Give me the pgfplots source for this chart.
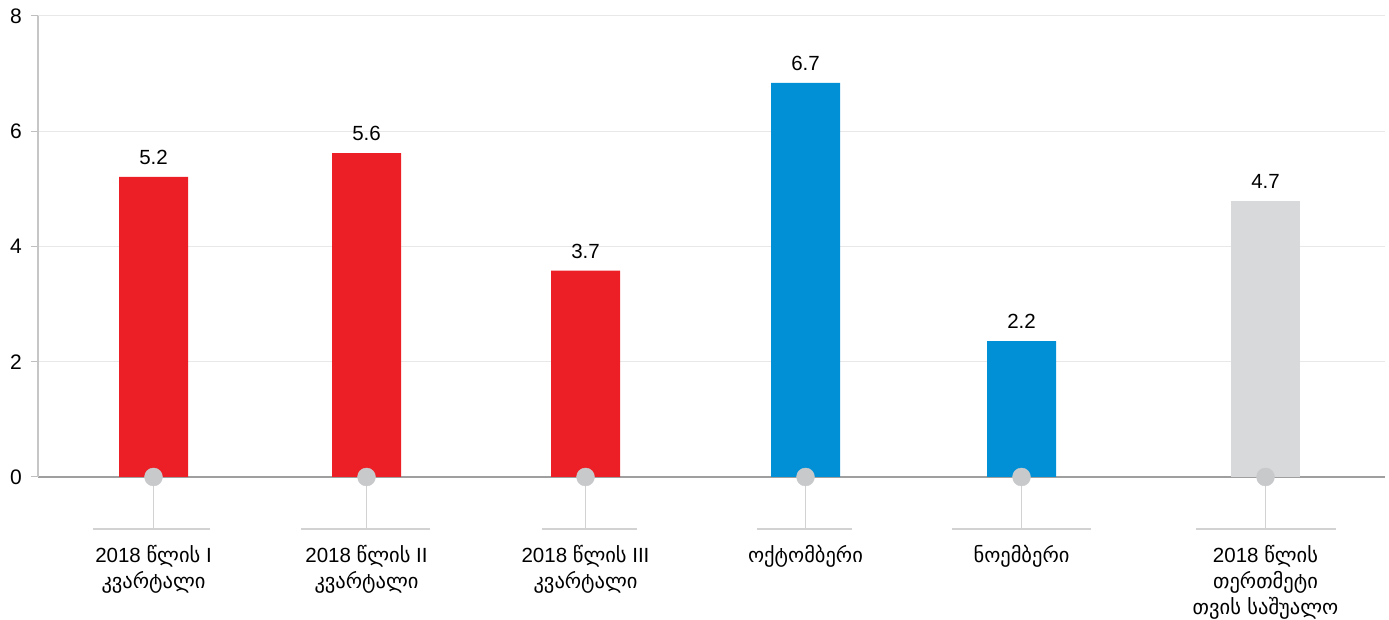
\documentclass[border=0pt]{standalone}
\usepackage{pgfplots}
\pgfplotsset{compat=1.18}
\usepackage{fontspec}
\setmainfont{Liberation Sans}
\newfontfamily\geo{DejaVu Sans}

\definecolor{barred}{HTML}{ED1F26}
\definecolor{barblue}{HTML}{0190D6}
\definecolor{bargray}{HTML}{D8D9DB}
\definecolor{dotgray}{HTML}{C8C9CB}
\definecolor{stemgray}{HTML}{D2D2D2}

% x positions are the bar centres measured along the picture
\newcommand{\stem}[3]{%
  \draw[stemgray, line width=1.3pt] (axis cs:#1,0) -- (axis cs:#1,-0.9);
  \draw[stemgray, line width=1.3pt] (axis cs:#2,-0.9) -- (axis cs:#3,-0.9);}

\begin{document}
\begin{tikzpicture}[font=\fontsize{20.5}{26}\selectfont]
\useasboundingbox (-38pt,-143pt) rectangle (1351pt,477pt);
\begin{axis}[
  at={(0,0)}, anchor=south west,
  scale only axis, width=1347pt, height=461pt,
  xmin=38, xmax=1385, ymin=0, ymax=8,
  clip=false,
  axis x line=bottom, axis y line=left,
  axis line style={-},
  x axis line style={draw=gray!75, line width=1.5pt},
  y axis line style={draw=gray!45, line width=1.5pt},
  ytick={0,2,4,6,8},
  ymajorgrids, grid style={draw=gray!18, line width=1pt},
  tick align=outside, major tick length=7pt,
  ytick style={draw=gray!50, line width=1pt},
  xtick style={draw=none},
  yticklabel style={anchor=east, inner sep=0pt, xshift=-9pt, font=\fontsize{21}{26}\selectfont},
  /pgf/number format/assume math mode=true,
  xtick={153.5,366.5,585.5,805.5,1021.5,1265.5},
  xticklabels={
    {2018 {\geo წლის} I\\{\geo კვარტალი}},
    {2018 {\geo წლის} II\\{\geo კვარტალი}},
    {2018 {\geo წლის} III\\{\geo კვარტალი}},
    {{\geo ოქტომბერი}},
    {{\geo ნოემბერი}},
    {2018 {\geo წლის}\\{\geo თერთმეტი}\\{\geo თვის საშუალო}}},
  xticklabel style={align=center, anchor=north, inner sep=0pt, yshift=-61pt, font=\fontsize{20.5}{26}\selectfont},
  ybar, bar width=69pt, bar shift=0pt,
  nodes near coords, point meta=explicit symbolic,
  every node near coord/.append style={anchor=south, inner sep=0pt, yshift=12pt, black, font=\fontsize{20.5}{26}\selectfont},
]
\addplot[draw=none, fill=barred] coordinates {(153.5,5.21)[5.2] (366.5,5.62)[5.6] (585.5,3.58)[3.7]};
\addplot[draw=none, fill=barblue] coordinates {(805.5,6.84)[6.7] (1021.5,2.36)[2.2]};
\addplot[draw=none, fill=bargray] coordinates {(1265.5,4.79)[4.7]};
\stem{153.5}{93}{210}
\stem{366.5}{301}{430}
\stem{585.5}{542}{637}
\stem{805.5}{757}{852}
\stem{1021.5}{952}{1091}
\stem{1265.5}{1196}{1336}
\addplot[only marks, mark=*, mark size=9pt, color=dotgray,
  mark options={draw=dotgray, fill=dotgray}, nodes near coords={}]
  coordinates {(153.5,0) (366.5,0) (585.5,0) (805.5,0) (1021.5,0) (1265.5,0)};
\end{axis}
\end{tikzpicture}
\end{document}
